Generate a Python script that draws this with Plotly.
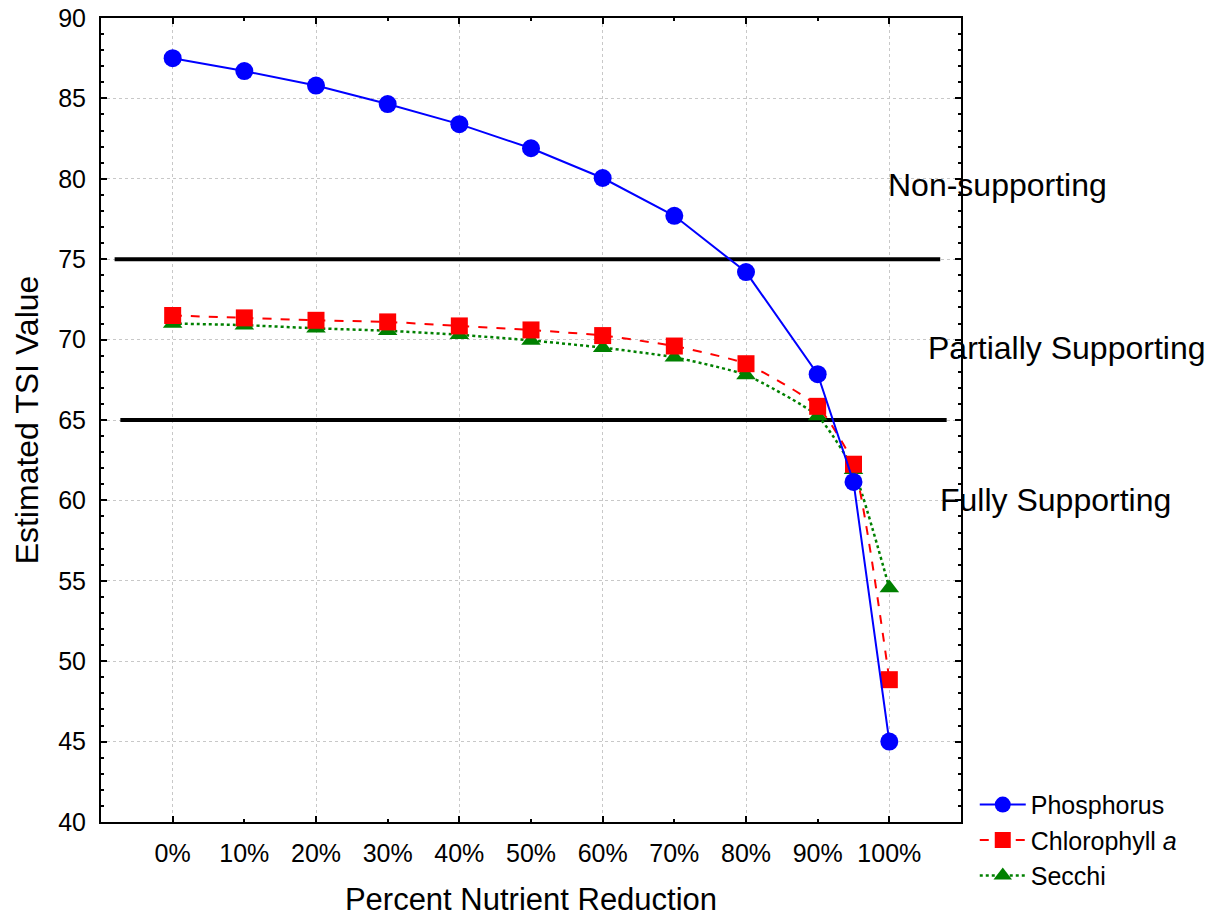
import plotly.graph_objects as go

reduction = [0, 10, 20, 30, 40, 50, 60, 70, 80, 90, 95, 100]
phosphorus = [87.5, 86.7, 85.8, 84.65, 83.4, 81.9, 80.05, 77.7, 74.2, 67.85, 61.15, 45.0]
chlorophyll = [71.5, 71.35, 71.2, 71.1, 70.85, 70.6, 70.25, 69.6, 68.5, 65.85, 62.25, 48.85]
secchi = [71.0, 70.9, 70.7, 70.55, 70.3, 69.95, 69.5, 68.9, 67.8, 65.25, 61.9, 54.55]

tick_vals = [0, 10, 20, 30, 40, 50, 60, 70, 80, 90, 100]
tick_text = ["0%", "10%", "20%", "30%", "40%", "50%", "60%", "70%", "80%", "90%", "100%"]

threshold_upper = 75
threshold_upper_x = [-8.1, 107.1]
threshold_lower = 65
threshold_lower_x = [-7.3, 108.0]

zone_labels = ["Non-supporting", "Partially Supporting", "Fully Supporting"]
zone_label_x = [99.6, 105.1, 106.8]
zone_label_y = [79.6, 69.5, 60.0]

FONT = "Arial, Liberation Sans, sans-serif"

fig = go.Figure()

fig.add_trace(go.Scatter(
    x=threshold_upper_x, y=[threshold_upper] * 2, mode="lines",
    line=dict(color="black", width=4), showlegend=False, hoverinfo="skip"))
fig.add_trace(go.Scatter(
    x=threshold_lower_x, y=[threshold_lower] * 2, mode="lines",
    line=dict(color="black", width=4), showlegend=False, hoverinfo="skip"))

fig.add_trace(go.Scatter(
    x=reduction, y=secchi, name="Secchi", mode="lines+markers",
    line=dict(color="#008000", width=2.5, dash="dot", shape="spline", smoothing=0.5),
    marker=dict(symbol="triangle-up", size=17, color="#008000")))
fig.add_trace(go.Scatter(
    x=reduction, y=chlorophyll, name="Chlorophyll <i>a</i>", mode="lines+markers",
    line=dict(color="#FF0000", width=2, dash="dash", shape="spline", smoothing=0.5),
    marker=dict(symbol="square", size=17, color="#FF0000")))
fig.add_trace(go.Scatter(
    x=reduction, y=phosphorus, name="Phosphorus", mode="lines+markers",
    line=dict(color="#0000FF", width=2),
    marker=dict(symbol="circle", size=18, color="#0000FF")))

for txt, xv, yv in zip(zone_labels, zone_label_x, zone_label_y):
    fig.add_annotation(x=xv, y=yv, xref="x", yref="y", text=txt, showarrow=False,
                       xanchor="left", yanchor="middle",
                       font=dict(family=FONT, size=32, color="black"))

fig.update_layout(
    width=1216, height=917,
    margin=dict(l=101, r=255, t=18, b=95, autoexpand=False),
    paper_bgcolor="white", plot_bgcolor="white",
    font=dict(family=FONT, color="black"),
    legend=dict(x=1.016, y=0.050, xanchor="left", yanchor="top",
                traceorder="reversed", font=dict(family=FONT, size=25),
                bgcolor="rgba(0,0,0,0)", tracegroupgap=0, itemwidth=46),
    showlegend=True,
)

fig.update_xaxes(
    range=[-10, 110], automargin=False,
    tickmode="array", tickvals=tick_vals, ticktext=tick_text,
    ticks="inside", ticklen=3, tickwidth=1.5, tickcolor="black",
    showgrid=False, zeroline=False,
    showline=True, linecolor="black", linewidth=2, mirror="ticks",
    tickfont=dict(family=FONT, size=25),
    ticklabelstandoff=8,
    minor=dict(tickmode="array", tickvals=[0, 20, 40, 60, 80, 100], ticks="inside",
               ticklen=6, tickwidth=2, tickcolor="black",
               showgrid=True, gridcolor="#c8c8c8", gridwidth=1, griddash="dot"),
    title=dict(text="Percent Nutrient Reduction", font=dict(family=FONT, size=31), standoff=24),
)

fig.update_yaxes(
    range=[40, 90], dtick=5, tick0=40, automargin=False,
    ticks="inside", ticklen=6, tickwidth=2, tickcolor="black",
    showgrid=True, gridcolor="#c8c8c8", gridwidth=1, griddash="dot",
    zeroline=False,
    showline=True, linecolor="black", linewidth=2, mirror="ticks",
    tickfont=dict(family=FONT, size=25),
    ticklabelstandoff=8,
    minor=dict(dtick=1, ticks="inside", ticklen=3, tickwidth=1.5, tickcolor="black", showgrid=False),
    title=dict(text="Estimated TSI Value", font=dict(family=FONT, size=32), standoff=10),
)

fig.write_html("out.html")
